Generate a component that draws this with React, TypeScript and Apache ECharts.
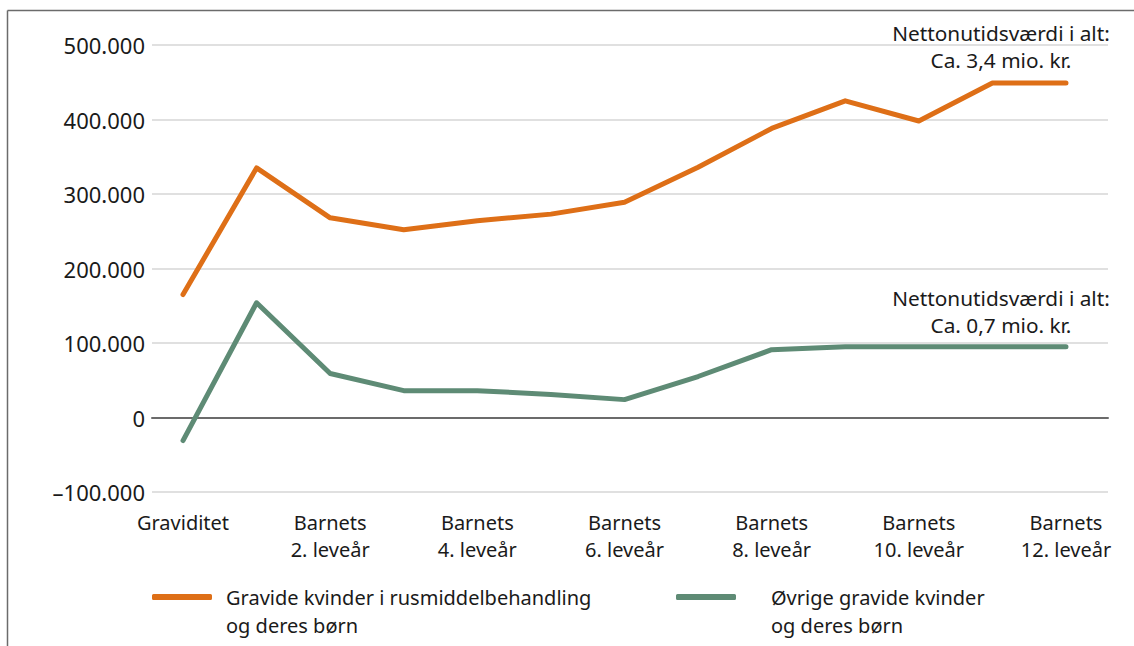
import React, { useEffect, useRef } from "react";
import * as echarts from "echarts";

const categories = [
  "Graviditet",
  "Barnets\n1. leveår",
  "Barnets\n2. leveår",
  "Barnets\n3. leveår",
  "Barnets\n4. leveår",
  "Barnets\n5. leveår",
  "Barnets\n6. leveår",
  "Barnets\n7. leveår",
  "Barnets\n8. leveår",
  "Barnets\n9. leveår",
  "Barnets\n10. leveår",
  "Barnets\n11. leveår",
  "Barnets\n12. leveår",
];
const labelledCategoryIndices = [0, 2, 4, 6, 8, 10, 12];

const seriesNames = [
  "Gravide kvinder i rusmiddelbehandling\nog deres børn",
  "Øvrige gravide kvinder\nog deres børn",
];

const rusValues = [165000, 335000, 268000, 252000, 264000, 273000, 289000, 336000, 388000, 425000, 398000, 449000, 449000];
const oevrigeValues = [-31000, 154000, 59000, 36000, 36000, 31000, 24000, 55000, 91000, 95000, 95000, 95000, 95000];

const annotations = [
  "Nettonutidsværdi i alt:\nCa. 3,4 mio. kr.",
  "Nettonutidsværdi i alt:\nCa. 0,7 mio. kr.",
];

const ORANGE = "#DE6F17";
const GREEN = "#5E8B75";
const TEXT = "#1a1a1a";
const FONT = "Noto Sans";

function fmt(v: number): string {
  const s = Math.abs(v).toString().replace(/\B(?=(\d{3})+(?!\d))/g, ".");
  return v < 0 ? "–" + s : s;
}

export default function App() {
  const ref = useRef<HTMLDivElement>(null);
  useEffect(() => {
    if (!ref.current) return;
    const chart = echarts.init(ref.current, undefined, { renderer: "svg" });
    const toPairs = (vals: number[]) => vals.map((v, i) => [i, v]);
    const legendBase = {
      top: 555,
      padding: 0,
      orient: "horizontal",
      icon: "roundRect",
      itemWidth: 60,
      itemHeight: 6,
      selectedMode: false,
      formatter: (name: string) => "\n" + name,
    };
    chart.setOption({
      animation: false,
      backgroundColor: "#ffffff",
      textStyle: { fontFamily: FONT, color: TEXT },
      grid: { left: 152, right: 26, top: 45, bottom: 154, containLabel: false },
      xAxis: {
        type: "value",
        min: -0.4213,
        max: 12.571,
        axisLine: { show: true, onZero: true, lineStyle: { color: "#6b6b6b", width: 2 } },
        axisTick: { show: false },
        axisLabel: {
          customValues: labelledCategoryIndices,
          formatter: (v: number) => categories[Math.round(v)] ?? "",
          color: TEXT,
          fontFamily: FONT,
          fontSize: 20,
          lineHeight: 27,
          margin: 17,
          align: "center",
          showMinLabel: true,
          showMaxLabel: true,
        },
        splitLine: { show: false },
      },
      yAxis: {
        type: "value",
        min: -100000,
        max: 500000,
        interval: 100000,
        axisLine: { show: false },
        axisTick: { show: false },
        axisLabel: {
          formatter: (v: number) => fmt(v),
          color: TEXT,
          fontFamily: FONT,
          fontSize: 22,
          margin: 7,
        },
        splitLine: { show: true, lineStyle: { color: "#d6d6d6", width: 1.5 } },
      },
      legend: [
        {
          ...legendBase,
          data: [seriesNames[0]],
          left: 152,
          textStyle: { color: TEXT, fontFamily: FONT, fontSize: 20, lineHeight: 28, padding: [0, 0, 0, 9] },
        },
        {
          ...legendBase,
          data: [seriesNames[1]],
          left: 676,
          textStyle: { color: TEXT, fontFamily: FONT, fontSize: 20, lineHeight: 28, padding: [0, 0, 0, 30] },
        },
      ],
      series: [
        {
          name: seriesNames[0],
          type: "line",
          data: toPairs(rusValues),
          symbol: "none",
          lineStyle: { color: ORANGE, width: 5, cap: "round", join: "round" },
          itemStyle: { color: ORANGE },
          z: 3,
        },
        {
          name: seriesNames[1],
          type: "line",
          data: toPairs(oevrigeValues),
          symbol: "none",
          lineStyle: { color: GREEN, width: 5, cap: "round", join: "round" },
          itemStyle: { color: GREEN },
          z: 3,
        },
      ],
      graphic: [
        { type: "line", shape: { x1: 7.5, y1: 10.5, x2: 1134, y2: 10.5 }, style: { stroke: "#6b6b6b", lineWidth: 1.5 } },
        { type: "line", shape: { x1: 7.5, y1: 10.5, x2: 7.5, y2: 646 }, style: { stroke: "#6b6b6b", lineWidth: 1.5 } },
        {
          type: "text",
          x: 1001,
          y: 19,
          style: { text: annotations[0], fill: TEXT, font: `20.8px "${FONT}"`, lineHeight: 27, align: "center", verticalAlign: "top" },
        },
        {
          type: "text",
          x: 1001,
          y: 284,
          style: { text: annotations[1], fill: TEXT, font: `20.8px "${FONT}"`, lineHeight: 27, align: "center", verticalAlign: "top" },
        },
      ],
    });
    return () => chart.dispose();
  }, []);
  return (
    <div
      ref={ref}
      style={{ position: "fixed", left: 0, top: 0, width: 1134, height: 646 }}
    />
  );
}
